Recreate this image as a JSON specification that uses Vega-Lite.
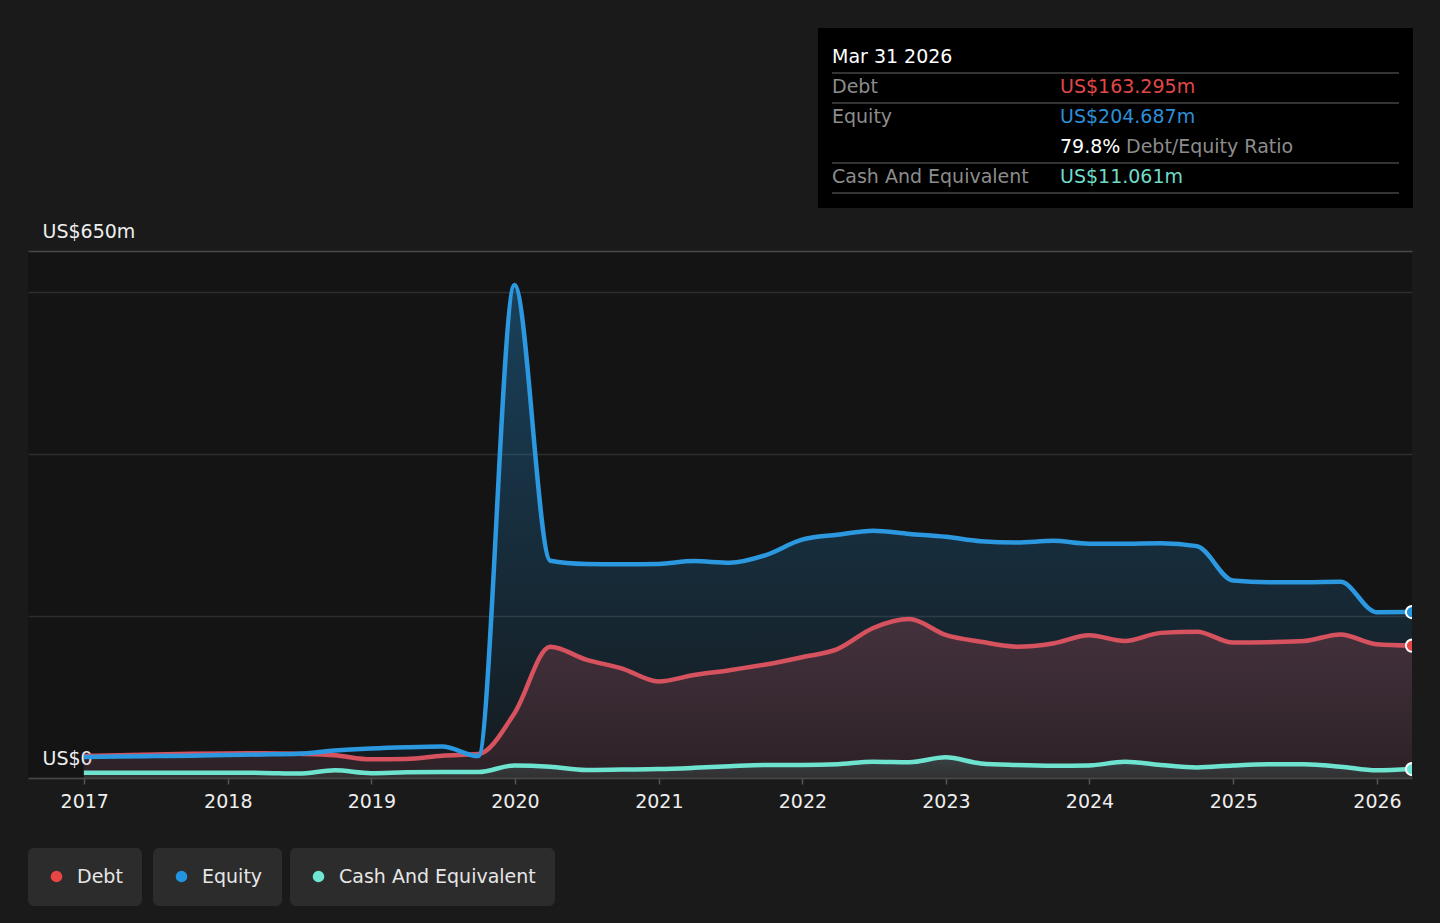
{
  "$schema": "https://vega.github.io/schema/vega-lite/v6.json",
  "width": 1384,
  "height": 527,
  "autosize": {"type": "none"},
  "padding": {"left": 28, "top": 251, "right": 28, "bottom": 145},
  "background": "#1a1a1a",
  "config": {
    "view": {"fill": "#141414", "stroke": null},
    "font": "DejaVu Sans",
    "axisY": {
      "title": null,
      "grid": true,
      "gridWidth": 1.5,
      "domain": false,
      "ticks": false,
      "tickSize": 0,
      "labelAlign": "left",
      "labelBaseline": "alphabetic",
      "labelPadding": -14,
      "labelOffset": -14,
      "labelColor": "#eeeeee",
      "labelFontSize": 19,
      "labelFont": "DejaVu Sans"
    }
  },
  "datasets": {
    "fin": [
      {"date": "2016-12-31", "equity": 26, "debt": 27, "cash": 6.6},
      {"date": "2017-03-31", "equity": 26.5, "debt": 28, "cash": 6.6},
      {"date": "2017-06-30", "equity": 27, "debt": 29, "cash": 6.5},
      {"date": "2017-09-30", "equity": 27.5, "debt": 29.8, "cash": 6.5},
      {"date": "2017-12-31", "equity": 28.3, "debt": 30.3, "cash": 6.5},
      {"date": "2018-03-31", "equity": 29, "debt": 30.5, "cash": 6.3},
      {"date": "2018-06-30", "equity": 30, "debt": 29.8, "cash": 5.5},
      {"date": "2018-09-30", "equity": 34, "debt": 28, "cash": 9.5},
      {"date": "2018-12-31", "equity": 36.5, "debt": 23, "cash": 6},
      {"date": "2019-03-31", "equity": 38, "debt": 23.5, "cash": 7},
      {"date": "2019-06-30", "equity": 38.8, "debt": 27.5, "cash": 7.3},
      {"date": "2019-09-30", "equity": 27, "debt": 29.5, "cash": 7.3},
      {"date": "2019-12-31", "equity": 608, "debt": 80, "cash": 15.5},
      {"date": "2020-03-31", "equity": 268, "debt": 162, "cash": 14},
      {"date": "2020-06-30", "equity": 264, "debt": 146, "cash": 10},
      {"date": "2020-09-30", "equity": 263.5, "debt": 135, "cash": 10.5},
      {"date": "2020-12-31", "equity": 264, "debt": 119, "cash": 11},
      {"date": "2021-03-31", "equity": 267.5, "debt": 127, "cash": 12.5},
      {"date": "2021-06-30", "equity": 265.5, "debt": 133, "cash": 14.5},
      {"date": "2021-09-30", "equity": 275, "debt": 140, "cash": 16},
      {"date": "2021-12-31", "equity": 294, "debt": 149, "cash": 16},
      {"date": "2022-03-31", "equity": 300, "debt": 159, "cash": 17},
      {"date": "2022-06-30", "equity": 305, "debt": 185, "cash": 20},
      {"date": "2022-09-30", "equity": 301, "debt": 196, "cash": 19.4},
      {"date": "2022-12-31", "equity": 297.5, "debt": 176.5, "cash": 25.5},
      {"date": "2023-03-31", "equity": 292, "debt": 168, "cash": 18},
      {"date": "2023-06-30", "equity": 290.5, "debt": 162, "cash": 16},
      {"date": "2023-09-30", "equity": 292.5, "debt": 166, "cash": 15},
      {"date": "2023-12-31", "equity": 289, "debt": 176, "cash": 15.5},
      {"date": "2024-03-31", "equity": 289, "debt": 169, "cash": 20},
      {"date": "2024-06-30", "equity": 289.5, "debt": 179, "cash": 16},
      {"date": "2024-09-30", "equity": 286, "debt": 180.5, "cash": 13},
      {"date": "2024-12-31", "equity": 243.5, "debt": 167, "cash": 15.5},
      {"date": "2025-03-31", "equity": 241.5, "debt": 167.5, "cash": 17},
      {"date": "2025-06-30", "equity": 241.5, "debt": 169, "cash": 17},
      {"date": "2025-09-30", "equity": 242, "debt": 177, "cash": 14},
      {"date": "2025-12-31", "equity": 204.5, "debt": 165, "cash": 9.5},
      {"date": "2026-03-31", "equity": 204.687, "debt": 163.295, "cash": 11.061}
    ],
    "tip": [
      {"row": "date", "label": "Mar 31 2026", "value": "", "note": ""},
      {"row": "Debt", "label": "Debt", "value": "US$163.295m", "note": ""},
      {"row": "Equity", "label": "Equity", "value": "US$204.687m", "note": ""},
      {"row": "Ratio", "label": "", "value": "79.8%", "note": "Debt/Equity Ratio"},
      {"row": "Cash", "label": "Cash And Equivalent", "value": "US$11.061m", "note": ""}
    ]
  },
  "layer": [
    {
      "data": {"name": "fin"},
      "encoding": {
        "x": {
          "field": "date",
          "type": "temporal",
          "scale": {"domain": [{"year": 2016, "month": 8, "date": 11, "utc": true}, {"year": 2026, "month": 3, "date": 31, "utc": true}]},
          "axis": {
            "values": [
              {"year": 2017, "month": 1, "date": 1}, {"year": 2018, "month": 1, "date": 1},
              {"year": 2019, "month": 1, "date": 1}, {"year": 2020, "month": 1, "date": 1},
              {"year": 2021, "month": 1, "date": 1}, {"year": 2022, "month": 1, "date": 1},
              {"year": 2023, "month": 1, "date": 1}, {"year": 2024, "month": 1, "date": 1},
              {"year": 2025, "month": 1, "date": 1}, {"year": 2026, "month": 1, "date": 1}
            ],
            "format": "%Y",
            "title": null,
            "grid": false,
            "domainColor": "#474747",
            "domainWidth": 1.5,
            "tickColor": "#555555",
            "tickSize": 6,
            "tickWidth": 1.5,
            "labelColor": "#eeeeee",
            "labelFontSize": 19,
            "labelFont": "DejaVu Sans",
            "labelPadding": 8,
            "labelFlush": false,
            "labelOverlap": false,
            "zindex": 1
          }
        }
      },
      "layer": [
        {
          "mark": {"type": "area", "interpolate": "monotone", "clip": true,
            "color": {"gradient": "linear", "x1": 0, "y1": 0, "x2": 0, "y2": 1,
              "stops": [{"offset": 0, "color": "rgba(35,148,223,0.35)"}, {"offset": 1, "color": "rgba(35,148,223,0.05)"}]}},
          "encoding": {"y": {"field": "equity", "type": "quantitative", "scale": {"domain": [0, 650]},
            "axis": {"values": [0, 200, 400, 600, 650], "labelExpr": "datum.value == 0 ? 'US$0' : datum.value == 650 ? 'US$650m' : ''", "gridColor": {"condition": {"test": "datum.value == 650", "value": "#4a4a4a"}, "value": "#2e2e2e"}, "zindex": 0}}}
        },
        {
          "mark": {"type": "area", "interpolate": "monotone", "clip": true,
            "color": {"gradient": "linear", "x1": 0, "y1": 0, "x2": 0, "y2": 1,
              "stops": [{"offset": 0, "color": "rgba(214,82,94,0.24)"}, {"offset": 1, "color": "rgba(214,82,94,0.12)"}]}},
          "encoding": {"y": {"field": "debt", "type": "quantitative", "scale": {"domain": [0, 650]},
            "axis": {"values": [0, 200, 400, 600, 650], "labelExpr": "datum.value == 0 ? 'US$0' : datum.value == 650 ? 'US$650m' : ''", "gridColor": {"condition": {"test": "datum.value == 650", "value": "#4a4a4a"}, "value": "#2e2e2e"}, "zindex": 0}}}
        },
        {
          "mark": {"type": "area", "interpolate": "monotone", "clip": true,
            "color": {"gradient": "linear", "x1": 0, "y1": 0, "x2": 0, "y2": 1,
              "stops": [{"offset": 0, "color": "rgba(110,227,207,0.16)"}, {"offset": 1, "color": "rgba(110,227,207,0.07)"}]}},
          "encoding": {"y": {"field": "cash", "type": "quantitative", "scale": {"domain": [0, 650]},
            "axis": {"values": [0, 200, 400, 600, 650], "labelExpr": "datum.value == 0 ? 'US$0' : datum.value == 650 ? 'US$650m' : ''", "gridColor": {"condition": {"test": "datum.value == 650", "value": "#4a4a4a"}, "value": "#2e2e2e"}, "zindex": 0}}}
        },
        {
          "mark": {"type": "line", "interpolate": "monotone", "clip": true, "color": "#d6525e", "strokeWidth": 4.5},
          "encoding": {"y": {"field": "debt", "type": "quantitative", "scale": {"domain": [0, 650]},
            "axis": {"values": [0, 200, 400, 600, 650], "labelExpr": "datum.value == 0 ? 'US$0' : datum.value == 650 ? 'US$650m' : ''", "gridColor": {"condition": {"test": "datum.value == 650", "value": "#4a4a4a"}, "value": "#2e2e2e"}, "zindex": 0}}}
        },
        {
          "mark": {"type": "line", "interpolate": "monotone", "clip": true, "color": "#6ee3cf", "strokeWidth": 4.5},
          "encoding": {"y": {"field": "cash", "type": "quantitative", "scale": {"domain": [0, 650]},
            "axis": {"values": [0, 200, 400, 600, 650], "labelExpr": "datum.value == 0 ? 'US$0' : datum.value == 650 ? 'US$650m' : ''", "gridColor": {"condition": {"test": "datum.value == 650", "value": "#4a4a4a"}, "value": "#2e2e2e"}, "zindex": 0}}}
        },
        {
          "mark": {"type": "line", "interpolate": "monotone", "clip": true, "color": "#2b98e0", "strokeWidth": 4.5},
          "encoding": {"y": {"field": "equity", "type": "quantitative", "scale": {"domain": [0, 650]},
            "axis": {"values": [0, 200, 400, 600, 650], "labelExpr": "datum.value == 0 ? 'US$0' : datum.value == 650 ? 'US$650m' : ''", "gridColor": {"condition": {"test": "datum.value == 650", "value": "#4a4a4a"}, "value": "#2e2e2e"}, "zindex": 0}}}
        },
        {
          "transform": [{"filter": "year(datum.date) == 2026"}],
          "mark": {"type": "point", "shape": "circle", "filled": true, "size": 150, "stroke": "#ffffff", "strokeWidth": 2, "opacity": 1, "clip": true},
          "encoding": {
            "y": {"field": "debt", "type": "quantitative", "scale": {"domain": [0, 650]},
              "axis": {"values": [0, 200, 400, 600, 650], "labelExpr": "datum.value == 0 ? 'US$0' : datum.value == 650 ? 'US$650m' : ''", "gridColor": {"condition": {"test": "datum.value == 650", "value": "#4a4a4a"}, "value": "#2e2e2e"}, "zindex": 0}},
            "color": {"datum": "Debt", "type": "nominal", "scale": {"domain": ["Debt"], "range": ["#e84545"]},
              "legend": {"orient": "none", "legendX": 0, "legendY": 597, "title": null, "direction": "horizontal",
                "fillColor": "#2c2c2c", "cornerRadius": 6, "padding": 19, "labelOffset": 11, "labelFontSize": 19,
                "labelColor": "#e6e6e6", "labelFont": "DejaVu Sans", "labelLimit": 400, "symbolType": "circle",
                "symbolSize": 135, "symbolStrokeWidth": 0, "symbolOpacity": 1}}
          }
        },
        {
          "transform": [{"filter": "year(datum.date) == 2026"}],
          "mark": {"type": "point", "shape": "circle", "filled": true, "size": 150, "stroke": "#ffffff", "strokeWidth": 2, "opacity": 1, "clip": true},
          "encoding": {
            "y": {"field": "equity", "type": "quantitative", "scale": {"domain": [0, 650]},
              "axis": {"values": [0, 200, 400, 600, 650], "labelExpr": "datum.value == 0 ? 'US$0' : datum.value == 650 ? 'US$650m' : ''", "gridColor": {"condition": {"test": "datum.value == 650", "value": "#4a4a4a"}, "value": "#2e2e2e"}, "zindex": 0}},
            "color": {"datum": "Equity", "type": "nominal", "scale": {"domain": ["Equity"], "range": ["#2394df"]},
              "legend": {"orient": "none", "legendX": 125, "legendY": 597, "title": null, "direction": "horizontal",
                "fillColor": "#2c2c2c", "cornerRadius": 6, "padding": 19, "labelOffset": 11, "labelFontSize": 19,
                "labelColor": "#e6e6e6", "labelFont": "DejaVu Sans", "labelLimit": 400, "symbolType": "circle",
                "symbolSize": 135, "symbolStrokeWidth": 0, "symbolOpacity": 1}}
          }
        },
        {
          "transform": [{"filter": "year(datum.date) == 2026"}],
          "mark": {"type": "point", "shape": "circle", "filled": true, "size": 150, "stroke": "#ffffff", "strokeWidth": 2, "opacity": 1, "clip": true},
          "encoding": {
            "y": {"field": "cash", "type": "quantitative", "scale": {"domain": [0, 650]},
              "axis": {"values": [0, 200, 400, 600, 650], "labelExpr": "datum.value == 0 ? 'US$0' : datum.value == 650 ? 'US$650m' : ''", "gridColor": {"condition": {"test": "datum.value == 650", "value": "#4a4a4a"}, "value": "#2e2e2e"}, "zindex": 0}},
            "color": {"datum": "Cash And Equivalent", "type": "nominal", "scale": {"domain": ["Cash And Equivalent"], "range": ["#6ee6d2"]},
              "legend": {"orient": "none", "legendX": 262, "legendY": 597, "title": null, "direction": "horizontal",
                "fillColor": "#2c2c2c", "cornerRadius": 6, "padding": 19, "labelOffset": 11, "labelFontSize": 19,
                "labelColor": "#e6e6e6", "labelFont": "DejaVu Sans", "labelLimit": 400, "symbolType": "circle",
                "symbolSize": 135, "symbolStrokeWidth": 0, "symbolOpacity": 1}}
          }
        }
      ],
      "resolve": {"scale": {"color": "independent"}, "legend": {"color": "independent"}}
    },
    {
      "layer": [
        {
          "data": {"values": [{"box": "tooltip"}]},
          "mark": {"type": "rect", "fill": "#000000", "clip": false},
          "encoding": {
            "x": {"datum": 0, "type": "quantitative", "scale": {"domain": [0, 595], "range": [790, 1385], "nice": false, "zero": false}, "axis": null},
            "x2": {"datum": 595},
            "y": {"datum": 0, "type": "quantitative", "scale": {"domain": [0, 180], "range": [-223, -43], "nice": false, "zero": false}, "axis": null},
            "y2": {"datum": 180}
          }
        },
        {
          "data": {"name": "tip"},
          "encoding": {
            "y": {"field": "row", "type": "nominal",
              "scale": {"type": "point", "domain": ["date", "Debt", "Equity", "Ratio", "Cash"], "range": [-195, -75], "padding": 0},
              "axis": null}
          },
          "layer": [
            {
              "transform": [{"filter": "datum.row != 'Equity'"}],
              "mark": {"type": "rule", "color": "#454545", "strokeWidth": 1.5, "yOffset": 17, "clip": false},
              "encoding": {"x": {"datum": 14, "type": "quantitative", "axis": null}, "x2": {"datum": 581}}
            },
            {
              "mark": {"type": "text", "align": "left", "baseline": "middle", "fontSize": 19, "font": "DejaVu Sans", "yOffset": 1, "clip": false},
              "encoding": {
                "x": {"datum": 14, "type": "quantitative", "axis": null},
                "text": {"field": "label"},
                "color": {"condition": {"test": "datum.row == 'date'", "value": "#ffffff"}, "value": "#8c8c8c"}
              }
            },
            {
              "mark": {"type": "text", "align": "left", "baseline": "middle", "fontSize": 19, "font": "DejaVu Sans", "yOffset": 1, "clip": false},
              "encoding": {
                "x": {"datum": 242, "type": "quantitative", "axis": null},
                "text": {"field": "value"},
                "color": {"field": "row", "type": "nominal",
                  "scale": {"domain": ["date", "Debt", "Equity", "Ratio", "Cash"], "range": ["#ffffff", "#e04848", "#2d8fd8", "#ffffff", "#6fdcc8"]},
                  "legend": null}
              }
            },
            {
              "mark": {"type": "text", "align": "left", "baseline": "middle", "fontSize": 19, "font": "DejaVu Sans", "dx": 66, "yOffset": 1, "color": "#8c8c8c", "clip": false},
              "encoding": {
                "x": {"datum": 242, "type": "quantitative", "axis": null},
                "text": {"field": "note"}
              }
            }
          ]
        }
      ],
      "resolve": {"scale": {"y": "independent"}}
    }
  ],
  "resolve": {"scale": {"x": "independent", "y": "independent", "color": "independent"}}
}
